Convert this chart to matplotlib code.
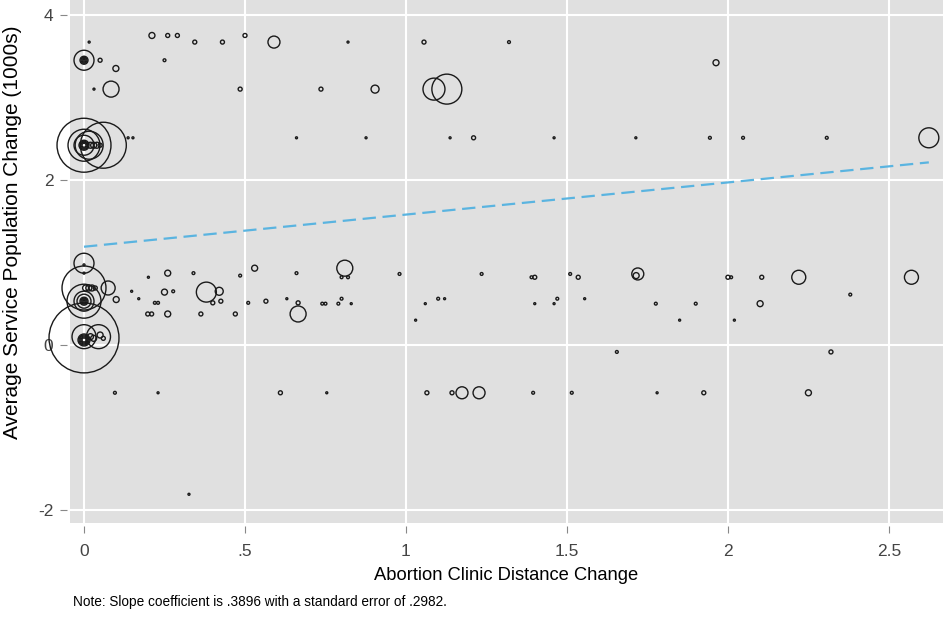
import matplotlib
matplotlib.use("Agg")
import matplotlib.pyplot as plt
import numpy as np

plt.rcParams['font.family'] = ['Liberation Sans', 'DejaVu Sans']

# clinic distance change, population change (1000s), analytic weight
dist_change = [
    # top rows
    0.016, 0.344, 0.43, 0.59, 0.82, 1.056, 1.32,
    0.211, 0.26, 0.29, 0.50,
    0.0, 0.0, 0.0, 0.0, 0.0, 0.05, 0.25, 0.099, 1.963,
    0.031, 0.084, 0.485, 0.736, 0.904, 1.087, 1.127,
    0.137, 0.152, 0.66, 0.876, 1.137, 1.21, 1.46, 1.714, 1.944, 2.047, 2.307, 2.624,
    # cluster near 2.4
    0.0, 0.06, 0.0, 0.016, 0.0, 0.0, 0.0, 0.0, 0.0, 0.02, 0.03, 0.04, 0.05, 0.012,
    # around 1
    0.0, 0.0, 0.0,
    0.0, 0.005, 0.015, 0.025, 0.035, 0.075,
    0.0, 0.0, 0.0, 0.0, 0.0, 0.0, 0.0, 0.1,
    0.2, 0.26, 0.34, 0.485, 0.53, 0.66, 0.81, 0.80, 0.82, 0.98, 1.235, 1.40, 1.39,
    1.51, 1.535, 1.72, 1.715, 2.0, 2.01, 2.105, 2.22, 2.57,
    0.148, 0.25, 0.277, 0.38, 0.42, 2.38,
    0.17, 0.22, 0.23, 0.40, 0.425, 0.51, 0.565, 0.63, 0.665, 0.74, 0.75, 0.79, 0.80,
    0.83, 1.06, 1.10, 1.12, 1.40, 1.46, 1.47, 1.555, 1.776, 1.90, 2.10,
    0.198, 0.21, 0.26, 0.363, 0.47, 0.665,
    1.03, 1.85, 2.02,
    # around 0
    0.0, 0.045, 0.0, 0.0, 0.0, 0.0, 0.0, 0.0, 0.02, 0.03, 0.05, 0.06, 0.01,
    1.655, 2.32,
    0.096, 0.23, 0.61, 0.754, 1.065, 1.143, 1.174, 1.227, 1.395, 1.515, 1.78, 1.925, 2.25,
    0.326,
]
pop_change = [
    3.67, 3.67, 3.67, 3.67, 3.67, 3.67, 3.67,
    3.75, 3.75, 3.75, 3.75,
    3.45, 3.45, 3.45, 3.45, 3.45, 3.45, 3.45, 3.35, 3.42,
    3.10, 3.10, 3.10, 3.10, 3.10, 3.10, 3.10,
    2.51, 2.51, 2.51, 2.51, 2.51, 2.51, 2.51, 2.51, 2.51, 2.51, 2.51, 2.51,
    2.42, 2.42, 2.42, 2.42, 2.42, 2.42, 2.42, 2.42, 2.42, 2.42, 2.42, 2.42, 2.42, 2.44,
    0.99, 0.97, 0.87,
    0.69, 0.69, 0.69, 0.69, 0.69, 0.69,
    0.53, 0.53, 0.53, 0.53, 0.53, 0.53, 0.53, 0.55,
    0.82, 0.87, 0.87, 0.84, 0.93, 0.87, 0.93, 0.82, 0.82, 0.86, 0.86, 0.82, 0.82,
    0.86, 0.82, 0.86, 0.84, 0.82, 0.82, 0.82, 0.82, 0.82,
    0.65, 0.64, 0.65, 0.64, 0.65, 0.61,
    0.56, 0.51, 0.51, 0.51, 0.53, 0.51, 0.53, 0.56, 0.51, 0.50, 0.50, 0.50, 0.56,
    0.50, 0.50, 0.56, 0.56, 0.50, 0.50, 0.56, 0.56, 0.50, 0.50, 0.50,
    0.375, 0.375, 0.375, 0.375, 0.375, 0.375,
    0.30, 0.30, 0.30,
    0.085, 0.10, 0.10, 0.06, 0.06, 0.06, 0.06, 0.06, 0.10, 0.08, 0.12, 0.08, 0.03,
    -0.085, -0.085,
    -0.58, -0.58, -0.58, -0.58, -0.58, -0.58, -0.58, -0.58, -0.58, -0.58, -0.58, -0.58, -0.58,
    -1.81,
]
weight = [
    1, 4, 4, 36, 1, 4, 2,
    9, 4, 4, 4,
    100, 16, 9, 4, 1, 4, 2, 9, 9,
    1, 64, 4, 4, 16, 121, 225,
    1, 1, 1, 1, 1, 4, 1, 1, 2, 2, 2, 100,
    729, 529, 256, 196, 100, 25, 16, 9, 4, 9, 9, 9, 4, 1,
    100, 1, 1,
    484, 9, 9, 9, 4, 49,
    289, 100, 49, 16, 9, 4, 1, 9,
    1, 9, 2, 2, 9, 2, 64, 2, 2, 2, 2, 4, 2,
    2, 4, 36, 9, 4, 2, 4, 49, 49,
    1, 9, 2, 100, 16, 2,
    1, 2, 2, 4, 4, 2, 4, 1, 4, 2, 2, 2, 2,
    1, 1, 2, 1, 1, 1, 2, 1, 2, 2, 9,
    4, 4, 9, 4, 4, 64,
    1, 1, 1,
    1225, 144, 144, 36, 25, 16, 9, 4, 9, 9, 9, 4, 1,
    2, 4,
    2, 1, 4, 1, 4, 4, 36, 36, 2, 2, 1, 4, 9,
    1,
]

slope = 0.3896
intercept = 1.19
note = "Note: Slope coefficient is .3896 with a standard error of .2982."

x = np.array(dist_change)
y = np.array(pop_change)
w = np.array(weight)

fig = plt.figure(figsize=(9.43, 6.18), dpi=100)
ax = fig.add_axes([70 / 943, 1 - 523 / 618, 873 / 943, 523 / 618])
ax.set_facecolor('#e0e0e0')

# marker area from weight (weight ~ radius^2 in pixels)
ax.scatter(x, y, s=w * 2.07, facecolors='none', edgecolors='#1a1a1a',
           linewidths=1.0, zorder=3, clip_on=False)

xs = np.array([0, x.max()])
ax.plot(xs, intercept + slope * xs, color='#5ab4e0', lw=1.6,
        dashes=(6, 3), zorder=4)

ax.set_xlim(-0.0435, 2.668)
ax.set_ylim(-2.158, 4.18)
ax.set_xticks([0, 0.5, 1, 1.5, 2, 2.5])
ax.set_xticklabels(['0', '.5', '1', '1.5', '2', '2.5'])
ax.set_yticks([-2, 0, 2, 4])
ax.set_yticklabels(['-2', '0', '2', '4'])
ax.grid(True, color='white', lw=1.5)
ax.set_axisbelow(True)
for sp in ax.spines.values():
    sp.set_visible(False)
ax.spines['bottom'].set_position(('outward', 2))
ax.spines['left'].set_position(('outward', 2))
ax.tick_params(axis='both', direction='out', length=5, width=0.8,
               color='#888888', labelcolor='#444444', labelsize=12.5)
ax.tick_params(axis='x', pad=8)
ax.tick_params(axis='y', pad=5)

ax.set_xlabel("Abortion Clinic Distance Change", fontsize=13.2, va='center')
ax.set_ylabel("Average Service Population Change (1000s)", fontsize=15, va='center')
ax.xaxis.set_label_coords((506 - 70) / 873, (523 - 576) / 523)
ax.yaxis.set_label_coords((13 - 70) / 873, 0.5 + (261 - 232) / 523)
fig.text(73 / 943, 1 - 602 / 618, note, fontsize=9.8, va='center')

fig.savefig("out.png", dpi=100)
